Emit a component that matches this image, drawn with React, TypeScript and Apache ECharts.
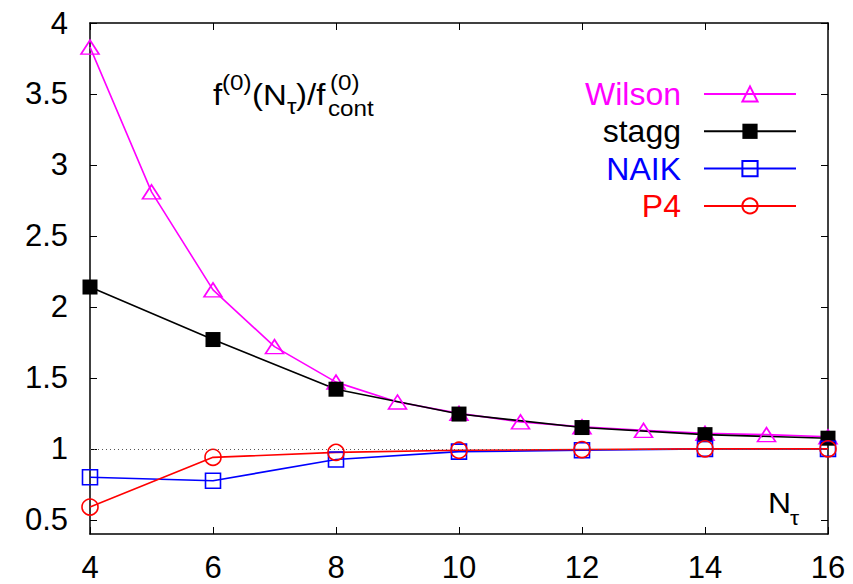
import React, { useEffect, useRef } from "react";
import * as echarts from "echarts";

const nTau = [4, 5, 6, 7, 8, 9, 10, 11, 12, 13, 14, 15, 16];
const wilson = [3.83, 2.81, 2.12, 1.72, 1.47, 1.33, 1.25, 1.19, 1.155, 1.13, 1.11, 1.1, 1.085];
const staggX = [4, 6, 8, 10, 12, 14, 16];
const stagg = [2.14, 1.77, 1.42, 1.245, 1.15, 1.1, 1.075];
const naikX = [4, 6, 8, 10, 12, 14, 16];
const naik = [0.8, 0.775, 0.925, 0.98, 0.99, 1.0, 1.0];
const p4X = [4, 6, 8, 10, 12, 14, 16];
const p4 = [0.59, 0.94, 0.975, 0.99, 0.995, 1.0, 1.0];
const yTicks = [0.5, 1, 1.5, 2, 2.5, 3, 3.5, 4];
const xTicks = [4, 6, 8, 10, 12, 14, 16];

const FONT = "'Liberation Sans', Arial, Helvetica, sans-serif";

const zip = (xs: number[], ys: number[]) => xs.map((x, i) => [x, ys[i]]);

export default function App() {
  const ref = useRef<HTMLDivElement>(null);
  useEffect(() => {
    document.body.style.margin = "0";
    const chart = echarts.init(ref.current!, null, { renderer: "svg" });
    const axisLine = { show: true, lineStyle: { color: "#000", width: 1.5 } };
    const tick = { show: true, inside: true, length: 7, lineStyle: { color: "#000", width: 1 } };
    const txt = (text: string, x: number, y: number, fs: number, color = "#000") => ({
      type: "text",
      x,
      y,
      scaleX: 1.1,
      silent: true,
      style: { text, fontSize: fs, fontFamily: FONT, fill: color, align: "left", verticalAlign: "middle" },
    });
    chart.setOption({
      animation: false,
      backgroundColor: "#fff",
      grid: { left: 90, right: 25, top: 23, bottom: 50, containLabel: false },
      xAxis: [
        {
          type: "value",
          min: 4,
          max: 16,
          interval: 2,
          axisLine,
          axisTick: tick,
          splitLine: { show: false },
          axisLabel: { fontSize: 31, fontFamily: FONT, color: "#000", margin: 18, customValues: xTicks },
        },
        {
          type: "value",
          position: "top",
          min: 4,
          max: 16,
          interval: 2,
          axisLine,
          axisTick: tick,
          splitLine: { show: false },
          axisLabel: { show: false },
        },
      ],
      yAxis: [
        {
          type: "value",
          min: 0.4,
          max: 4,
          axisLine,
          axisTick: { ...tick, customValues: yTicks },
          splitLine: { show: false },
          axisLabel: { fontSize: 31, fontFamily: FONT, color: "#000", margin: 22, customValues: yTicks },
        },
        {
          type: "value",
          position: "right",
          min: 0.4,
          max: 4,
          axisLine,
          axisTick: { ...tick, customValues: yTicks },
          splitLine: { show: false },
          axisLabel: { show: false },
        },
      ],
      legend: {
        orient: "vertical",
        align: "right",
        right: 51,
        top: 73,
        itemWidth: 92,
        itemHeight: 19,
        itemGap: 5.3,
        selectedMode: false,
        textStyle: { fontSize: 32, fontFamily: FONT, lineHeight: 30, padding: [0, 18, 0, 0] },
        data: [
          { name: "Wilson", textStyle: { color: "#ff00ff" } },
          { name: "stagg", textStyle: { color: "#000000" } },
          { name: "NAIK", textStyle: { color: "#0000ff" } },
          { name: "P4", textStyle: { color: "#ff0000" } },
        ],
      },
      series: [
        {
          name: "Wilson",
          type: "line",
          data: zip(nTau, wilson),
          symbol: "triangle",
          symbolSize: [18, 14],
          lineStyle: { color: "#ff00ff", width: 1.6 },
          itemStyle: { color: "rgba(0,0,0,0)", borderColor: "#ff00ff", borderWidth: 1.6 },
          markLine: {
            silent: true,
            symbol: ["none", "none"],
            label: { show: false },
            lineStyle: { color: "#555", type: [1, 3], width: 1 },
            data: [{ yAxis: 1 }],
          },
        },
        {
          name: "stagg",
          type: "line",
          data: zip(staggX, stagg),
          symbol: "rect",
          symbolSize: 15,
          lineStyle: { color: "#000", width: 1.6 },
          itemStyle: { color: "#000" },
        },
        {
          name: "NAIK",
          type: "line",
          data: zip(naikX, naik),
          symbol: "rect",
          symbolSize: 15,
          lineStyle: { color: "#0000ff", width: 1.6 },
          itemStyle: { color: "rgba(0,0,0,0)", borderColor: "#0000ff", borderWidth: 1.6 },
        },
        {
          name: "P4",
          type: "line",
          data: zip(p4X, p4),
          symbol: "circle",
          symbolSize: 16,
          lineStyle: { color: "#ff0000", width: 1.6 },
          itemStyle: { color: "rgba(0,0,0,0)", borderColor: "#ff0000", borderWidth: 1.6 },
        },
      ],
      graphic: [
        txt("f", 213, 94.5, 30),
        txt("(0)", 222, 82, 22),
        txt("(N", 252, 94.5, 30),
        txt("τ", 287, 106, 22),
        txt(")/f", 296, 94.5, 30),
        txt("(0)", 330, 82, 22),
        txt("cont", 328, 108, 22),
        txt("N", 768, 503, 29),
        txt("τ", 790, 518, 21),
      ],
    });
    return () => chart.dispose();
  }, []);
  return (
    <div
      ref={ref}
      style={{ position: "fixed", left: 0, top: 0, width: 853, height: 584 }}
    />
  );
}
